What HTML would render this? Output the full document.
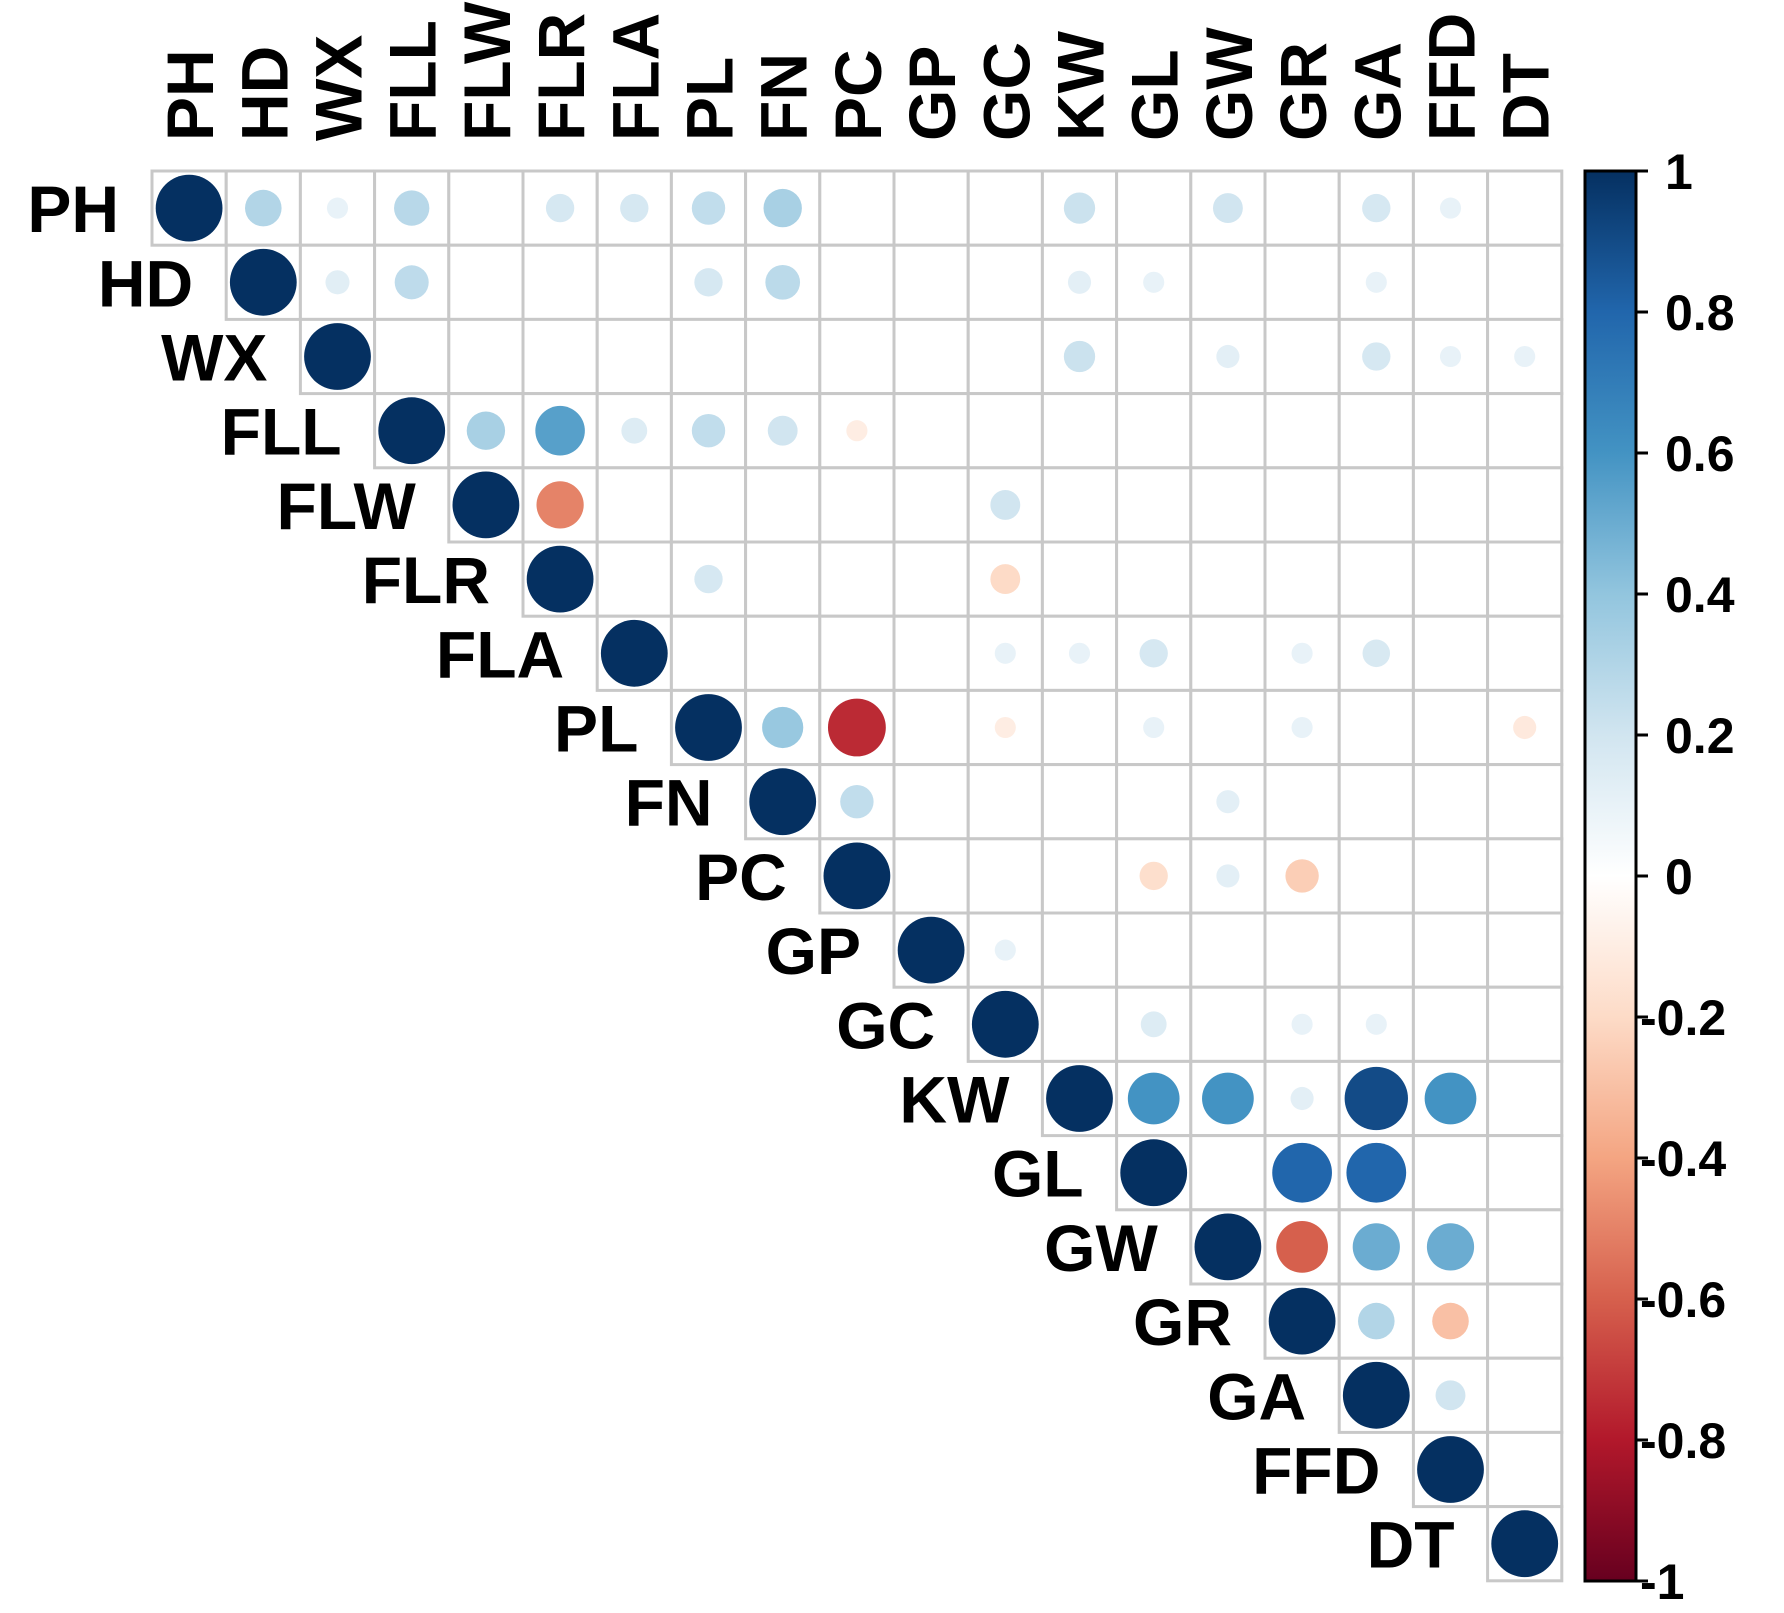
<!DOCTYPE html>
<html><head><meta charset="utf-8"><style>
html,body{margin:0;padding:0;background:#fff}
svg{display:block}
text{font-family:"Liberation Sans",Arial,sans-serif;font-weight:bold;fill:#000}
</style></head><body>
<svg id="chart" width="1784" height="1613" viewBox="0 0 1784 1613" xmlns="http://www.w3.org/2000/svg">
<defs><linearGradient id="cb" x1="0" y1="1" x2="0" y2="0">
<stop offset="0" stop-color="#67001F"/><stop offset="0.1" stop-color="#B2182B"/><stop offset="0.2" stop-color="#D6604D"/><stop offset="0.3" stop-color="#F4A582"/><stop offset="0.4" stop-color="#FDDBC7"/><stop offset="0.5" stop-color="#FFFFFF"/><stop offset="0.6" stop-color="#D1E5F0"/><stop offset="0.7" stop-color="#92C5DE"/><stop offset="0.8" stop-color="#4393C3"/><stop offset="0.9" stop-color="#2166AC"/><stop offset="1" stop-color="#053061"/>
</linearGradient></defs>
<g id="grid"></g>
<g id="marks"></g>
<g id="labels"></g>
<g id="legend"></g>
</svg>
<script>
const vars = ["PH","HD","WX","FLL","FLW","FLR","FLA","PL","FN","PC","GP","GC","KW","GL","GW","GR","GA","FFD","DT"];
// upper-triangle correlations: [rowVar, colVar, r]
const pairs = [
["PH","HD",0.3],["PH","WX",0.1],["PH","FLL",0.28],["PH","FLR",0.18],["PH","FLA",0.18],["PH","PL",0.25],["PH","FN",0.33],["PH","KW",0.22],["PH","GW",0.2],["PH","GA",0.18],["PH","FFD",0.1],
["HD","WX",0.13],["HD","FLL",0.26],["HD","PL",0.18],["HD","FN",0.27],["HD","KW",0.12],["HD","GL",0.1],["HD","GA",0.1],
["WX","KW",0.22],["WX","GW",0.12],["WX","GA",0.18],["WX","FFD",0.1],["WX","DT",0.1],
["FLL","FLW",0.33],["FLL","FLR",0.55],["FLL","FLA",0.15],["FLL","PL",0.25],["FLL","FN",0.2],["FLL","PC",-0.1],
["FLW","FLR",-0.5],["FLW","GC",0.2],
["FLR","PL",0.18],["FLR","GC",-0.2],
["FLA","GC",0.1],["FLA","KW",0.1],["FLA","GL",0.18],["FLA","GR",0.1],["FLA","GA",0.17],
["PL","FN",0.38],["PL","PC",-0.75],["PL","GC",-0.1],["PL","GL",0.1],["PL","GR",0.1],["PL","DT",-0.12],
["FN","PC",0.25],["FN","GW",0.12],
["PC","GL",-0.18],["PC","GW",0.12],["PC","GR",-0.25],
["GP","GC",0.1],
["GC","GL",0.15],["GC","GR",0.1],["GC","GA",0.1],
["KW","GL",0.6],["KW","GW",0.6],["KW","GR",0.12],["KW","GA",0.9],["KW","FFD",0.6],
["GL","GR",0.8],["GL","GA",0.8],
["GW","GR",-0.6],["GW","GA",0.5],["GW","FFD",0.5],
["GR","GA",0.3],["GR","FFD",-0.3],
["GA","FFD",0.2]
];
const legendTicks = ["1","0.8","0.6","0.4","0.2","0","-0.2","-0.4","-0.6","-0.8","-1"];
const legendVals = [1,0.8,0.6,0.4,0.2,0,-0.2,-0.4,-0.6,-0.8,-1];

const NS="http://www.w3.org/2000/svg";
const X0=152, Y0=171, C=74.2, N=vars.length;
const cx=i=>X0+(i+0.5)*C, cy=i=>Y0+(i+0.5)*C;
const pal=["#67001F","#B2182B","#D6604D","#F4A582","#FDDBC7","#FFFFFF","#D1E5F0","#92C5DE","#4393C3","#2166AC","#053061"];
function hex(h){return [1,3,5].map(k=>parseInt(h.substr(k,2),16));}
function color(r){const t=(r+1)/2*10;const i=Math.min(9,Math.floor(t));const f=t-i;const a=hex(pal[i]),b=hex(pal[i+1]);return "rgb("+a.map((v,k)=>Math.round(v+(b[k]-v)*f)).join(",")+")";}
function mk(tag,attrs,parent){const e=document.createElementNS(NS,tag);for(const k in attrs)e.setAttribute(k,attrs[k]);parent.appendChild(e);return e;}
const grid=document.getElementById('grid'),marks=document.getElementById('marks'),labels=document.getElementById('labels'),legend=document.getElementById('legend');
for(let i=0;i<N;i++){for(let j=i;j<N;j++){
 const r=mk('rect',{x:X0+j*C,y:Y0+i*C,width:C,height:C,fill:'#fff',stroke:'#c8c8c8','stroke-width':3},grid);
 
 
}}
const full=pairs.concat(vars.map(v=>[v,v,1]));
full.forEach(p=>{const i=vars.indexOf(p[0]),j=vars.indexOf(p[1]);const r=p[2];
 const c=mk('circle',{cx:cx(j),cy:cy(i),r:0.45*C*Math.sqrt(Math.abs(r)),fill:color(r)},marks);
 
 
});
vars.forEach((v,i)=>{
 const t=mk('text',{x:X0+i*C-33,y:cy(i)+24,'text-anchor':'end','font-size':66},labels);t.textContent=v;
 
 
 const u=mk('text',{x:0,y:0,'text-anchor':'start','font-size':66,transform:'translate('+(cx(i)+24)+',141) rotate(-90)'},labels);u.textContent=v;
 
 
});
const LX=1585,LW=51,LY0=171,LY1=1581;
const bar=mk('rect',{x:LX,y:LY0,width:LW,height:LY1-LY0,fill:'url(#cb)',stroke:'#000','stroke-width':3},legend);


const ly=v=>LY0+(1-v)/2*(LY1-LY0);
legendVals.forEach((v,k)=>{
 const tk=mk('line',{x1:LX+LW,x2:LX+LW+12,y1:ly(v),y2:ly(v),stroke:'#000','stroke-width':3},legend);
 
 
 const t=mk('text',{x:v<0?1640:1665,y:ly(v)+18,'font-size':50},legend);t.textContent=legendTicks[k];
 
 
});
</script>
</body></html>
